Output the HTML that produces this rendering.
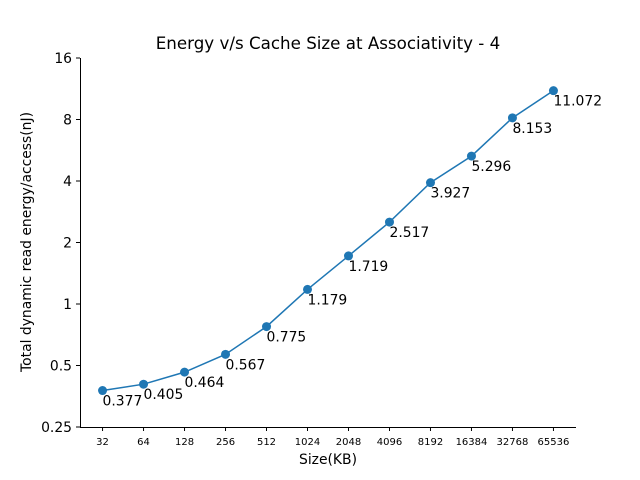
<!DOCTYPE html>
<html><head><meta charset="utf-8"><style>
body{margin:0;background:#fff;}
svg{display:block;font-family:"DejaVu Sans","Liberation Sans",sans-serif;}
</style></head><body>
<svg id="chart" width="640" height="480">
<text x="328" y="49" text-anchor="middle" font-size="16.7">Energy v/s Cache Size at Associativity - 4</text>
<text x="328" y="464" text-anchor="middle" font-size="13.9">Size(KB)</text>
<text transform="translate(31,242) rotate(-90)" text-anchor="middle" font-size="13.9">Total dynamic read energy/access(nJ)</text>
<line x1="80.5" y1="58" x2="80.5" y2="427" stroke="#000" stroke-width="1"/>
<line x1="80" y1="427.5" x2="576" y2="427.5" stroke="#000" stroke-width="1"/>
<g id="ticks"></g>
<g id="marks"></g>
</svg>
<script>
const categories=["32","64","128","256","512","1024","2048","4096","8192","16384","32768","65536"];
const values=[0.377,0.405,0.464,0.567,0.775,1.179,1.719,2.517,3.927,5.296,8.153,11.072];
const yTicks=[0.25,0.5,1,2,4,8,16];
const yTickLabels=["0.25","0.5","1","2","4","8","16"];
const NS="http://www.w3.org/2000/svg";
const L=80,R=576,T=58,B=427;
const step=(R-L)/(categories.length-1+1.1);
function xs(i){return L+step*(i+0.55);}
function ys(v){return B-(Math.log2(v)-Math.log2(0.25))/(Math.log2(16)-Math.log2(0.25))*(B-T);}
function mk(tag,attrs,parent){const e=document.createElementNS(NS,tag);for(const k in attrs)e.setAttribute(k,attrs[k]);parent.appendChild(e);return e;}
const tk=document.getElementById('ticks'),mg=document.getElementById('marks');
categories.forEach((c,i)=>{
 const l=mk('line',{x1:xs(i),x2:xs(i),y1:B,y2:B+4,stroke:'#000'},tk);
 
 
 const t=mk('text',{x:xs(i),y:B+18,'font-size':'10','text-anchor':'middle'},tk);
 t.textContent=c;
 
 
});
yTicks.forEach((v,i)=>{
 const y=ys(v);
 const l=mk('line',{x1:L-4,x2:L,y1:y,y2:y,stroke:'#000'},tk);
 
 
 const t=mk('text',{x:L-8,y:y+5,'font-size':'13.9','text-anchor':'end'},tk);
 t.textContent=yTickLabels[i];
 
 
});
const pts=values.map((v,i)=>xs(i)+','+ys(v)).join(' ');
const pl=mk('polyline',{points:pts,fill:'none',stroke:'#1f77b4','stroke-width':'1.5'},mg);


values.forEach((v,i)=>{
 const c=mk('circle',{cx:xs(i),cy:ys(v),r:4.5,fill:'#1f77b4'},mg);
 
 
 const t=mk('text',{x:xs(i),y:ys(v)+15,'font-size':'13.9'},mg);
 t.textContent=v.toString();
 
 
});
</script>
</body></html>
